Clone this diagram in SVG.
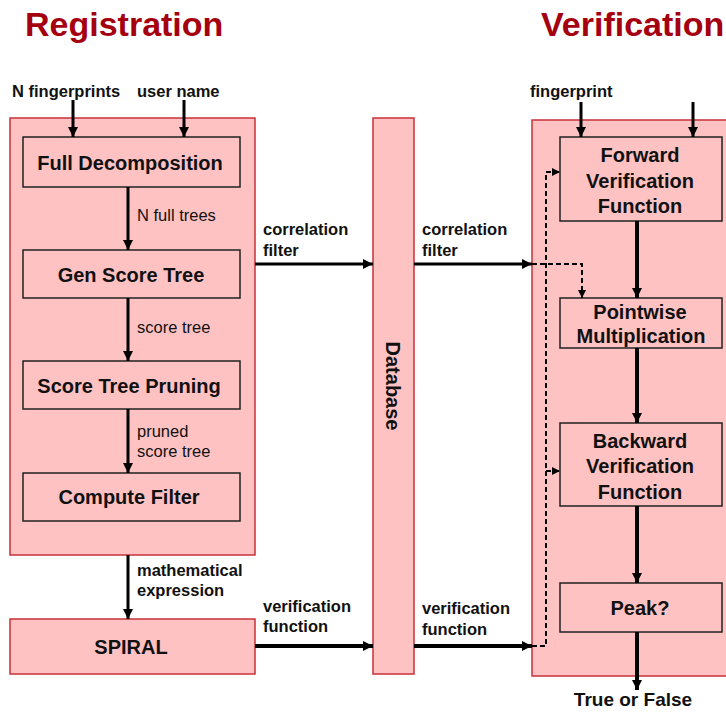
<svg xmlns="http://www.w3.org/2000/svg" width="726" height="712" viewBox="0 0 726 712">
<defs>
<marker id="ah" viewBox="0 0 10 10" refX="10" refY="5" markerWidth="12" markerHeight="10" markerUnits="userSpaceOnUse" orient="auto"><path d="M0,0 L10,5 L0,10 z" fill="#000"/></marker>
<marker id="ahs" viewBox="0 0 10 10" refX="10" refY="5" markerWidth="9" markerHeight="8" markerUnits="userSpaceOnUse" orient="auto"><path d="M0,0 L10,5 L0,10 z" fill="#000"/></marker>
</defs>
<style>
.title{font-family:"Liberation Sans",Arial,sans-serif;font-weight:bold;font-size:34px;fill:#a50010}
.group{fill:#ffc2c2;stroke:#c8323a;stroke-width:1.5}
.box{fill:#ffc2c2;stroke:#222;stroke-width:1.5}
.nl{font-family:"Liberation Sans",Arial,sans-serif;font-weight:bold;font-size:20px;fill:#111;text-anchor:middle}
.el{font-family:"Liberation Sans",Arial,sans-serif;font-size:16.5px;fill:#111}
.bl{font-family:"Liberation Sans",Arial,sans-serif;font-weight:bold;font-size:16.5px;fill:#111}
.a3{stroke:#000;stroke-width:3;fill:none;marker-end:url(#ah)}
.a4{stroke:#000;stroke-width:4;fill:none;marker-end:url(#ah)}
.d{stroke:#000;stroke-width:2;stroke-dasharray:5,3;fill:none}
.da{stroke:#000;stroke-width:2;stroke-dasharray:5,3;fill:none;marker-end:url(#ahs)}
</style>
<text class="title" x="25" y="36">Registration</text>
<text class="title" x="541" y="36">Verification</text>

<g id="registration">
<rect class="group" x="10" y="118" width="245" height="437"/>
</g>
<g id="database">
<rect class="group" x="373" y="118" width="41" height="556"/>
<text class="nl" transform="translate(386,386) rotate(90)">Database</text>
</g>
<g id="verification">
<rect class="group" x="532" y="120" width="200" height="556"/>
</g>

<g id="full-decomposition"><rect class="box" x="23" y="137" width="217" height="50"/><text class="nl" x="130" y="170">Full Decomposition</text></g>
<g id="gen-score-tree"><rect class="box" x="23" y="250" width="217" height="48"/><text class="nl" x="131" y="282">Gen Score Tree</text></g>
<g id="score-tree-pruning"><rect class="box" x="23" y="361" width="217" height="48"/><text class="nl" x="129" y="393">Score Tree Pruning</text></g>
<g id="compute-filter"><rect class="box" x="23" y="473" width="217" height="48"/><text class="nl" x="129" y="504">Compute Filter</text></g>
<g id="spiral"><rect class="group" x="10" y="619" width="245" height="55"/><text class="nl" x="131" y="654">SPIRAL</text></g>

<g id="forward"><rect class="box" x="560" y="137" width="162" height="84"/><text class="nl" x="640" y="162">Forward</text><text class="nl" x="640" y="188">Verification</text><text class="nl" x="640" y="213">Function</text></g>
<g id="pointwise"><rect class="box" x="560" y="298" width="162" height="50"/><text class="nl" x="640" y="319">Pointwise</text><text class="nl" x="641" y="343">Multiplication</text></g>
<g id="backward"><rect class="box" x="560" y="423" width="162" height="83"/><text class="nl" x="640" y="448">Backward</text><text class="nl" x="640" y="473">Verification</text><text class="nl" x="640" y="499">Function</text></g>
<g id="peak"><rect class="box" x="560" y="583" width="162" height="49"/><text class="nl" x="640" y="615">Peak?</text></g>

<g id="connectors">
<line class="a3" x1="73" y1="100" x2="73" y2="137"/>
<line class="a3" x1="184" y1="100" x2="184" y2="137"/>
<line class="a3" x1="128" y1="187" x2="128" y2="250"/>
<line class="a3" x1="128" y1="298" x2="128" y2="361"/>
<line class="a3" x1="128" y1="409" x2="128" y2="473"/>
<line class="a3" x1="128" y1="555" x2="128" y2="619"/>
<line class="a3" x1="255" y1="264" x2="373" y2="264"/>
<line class="a3" x1="414" y1="264" x2="532" y2="264"/>
<line class="a4" x1="255" y1="646" x2="373" y2="646"/>
<line class="a4" x1="414" y1="646" x2="532" y2="646"/>
<line class="a3" x1="581" y1="102" x2="581" y2="137"/>
<line class="a3" x1="693" y1="102" x2="693" y2="137"/>
<line class="a4" x1="637" y1="221" x2="637" y2="298"/>
<line class="a4" x1="637" y1="348" x2="637" y2="423"/>
<line class="a4" x1="637" y1="506" x2="637" y2="583"/>
<line class="a4" x1="637" y1="632" x2="637" y2="690"/>
<path class="da" d="M532,264 H582 V298"/>
<path class="d" d="M532,646 H546 V172"/>
<path class="da" d="M546,172 H560"/>
<path class="da" d="M546,471 H560"/>
</g>

<text class="bl" x="12" y="97">N fingerprints</text>
<text class="bl" x="137" y="97">user name</text>
<text class="bl" x="530" y="97">fingerprint</text>
<text class="el" x="137" y="221">N full trees</text>
<text class="el" x="137" y="333">score tree</text>
<text class="el" x="137" y="437">pruned</text>
<text class="el" x="137" y="457">score tree</text>
<text class="bl" x="137" y="576">mathematical</text>
<text class="bl" x="137" y="596">expression</text>
<text class="bl" x="263" y="235">correlation</text>
<text class="bl" x="263" y="256">filter</text>
<text class="bl" x="422" y="235">correlation</text>
<text class="bl" x="422" y="256">filter</text>
<text class="bl" x="263" y="612">verification</text>
<text class="bl" x="263" y="632">function</text>
<text class="bl" x="422" y="614">verification</text>
<text class="bl" x="422" y="635">function</text>
<text class="nl" x="633" y="706" style="font-size:19px">True or False</text>
</svg>
